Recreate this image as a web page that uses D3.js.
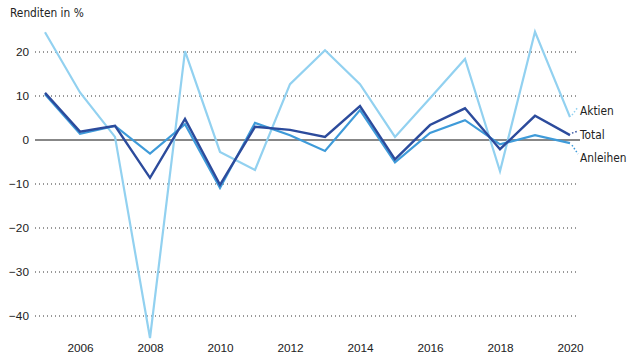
<!DOCTYPE html>
<html>
<head>
<meta charset="utf-8">
<script src="https://cdn.jsdelivr.net/npm/d3@7"></script>
<style>
  html, body { margin: 0; padding: 0; background: #fff; }
  svg { display: block; font-family: "Liberation Sans Narrow", "DejaVu Sans Condensed", "Arial Narrow", sans-serif; }
</style>
</head>
<body>
<svg id="chart" width="640" height="360"></svg>
<script>
const years = [2005, 2006, 2007, 2008, 2009, 2010, 2011, 2012, 2013, 2014, 2015, 2016, 2017, 2018, 2019, 2020];
const aktien   = [24.5, 10.8, 0.7, -45.0, 20.2, -2.7, -6.8, 12.7, 20.4, 12.7, 0.7, 9.5, 18.4, -7.1, 24.6, 5.2];
const anleihen = [10.4, 1.4, 3.2, -3.1, 3.6, -10.9, 3.9, 1.1, -2.5, 6.8, -5.1, 1.6, 4.5, -1.0, 1.1, -0.7];
const total    = [10.7, 1.9, 3.2, -8.6, 4.8, -10.2, 3.0, 2.3, 0.7, 7.7, -4.4, 3.4, 7.2, -2.1, 5.5, 1.1];
const yTicks = [20, 10, 0, -10, -20, -30, -40];
const xTicks = [2006, 2008, 2010, 2012, 2014, 2016, 2018, 2020];
const seriesNames = ["Aktien", "Anleihen", "Total"];
const colors = { Aktien: "#92d1f0", Anleihen: "#3f9bd9", Total: "#2c4b9c" };

const FS = 11.8;
const svg = d3.select("#chart");
const x = d3.scaleLinear().domain([2005, 2020]).range([45, 570]);
const y = d3.scaleLinear().domain([-40, 20]).range([316, 52]);

// title
svg.append("text").attr("x", 10).attr("y", 17).attr("font-size", FS).attr("fill", "#222").text("Renditen in %");

// grid lines (dotted)
const gridTicks = yTicks.filter(d => d !== 0);
svg.append("g").selectAll("line").data(gridTicks).join("line")
  .attr("x1", 35).attr("x2", 577)
  .attr("y1", d => y(d)).attr("y2", d => y(d))
  .attr("stroke", "#333").attr("stroke-width", 1)
  .attr("stroke-dasharray", "1,3");

// y axis labels
const yAxis = d3.axisLeft(y).tickValues(yTicks).tickSize(0).tickPadding(0)
  .tickFormat(d => d < 0 ? "\u2212" + Math.abs(d) : String(d));
const gy = svg.append("g").attr("transform", "translate(29,0)").call(yAxis);
gy.select(".domain").remove();
gy.selectAll("text").attr("font-size", FS).attr("fill", "#222").attr("font-family", null);

// x axis labels
const xAxis = d3.axisBottom(x).tickValues(xTicks).tickSize(0).tickPadding(0).tickFormat(d3.format("d"));
const gx = svg.append("g").attr("transform", "translate(0,344)").call(xAxis);
gx.select(".domain").remove();
gx.selectAll("text").attr("font-size", FS).attr("fill", "#222").attr("font-family", null);

// zero line
svg.append("line").attr("x1", 35).attr("x2", 580).attr("y1", y(0)).attr("y2", y(0))
  .attr("stroke", "#111").attr("stroke-width", 1.2);

const data = {
  Aktien: aktien,
  Anleihen: anleihen,
  Total: total
};
const line = d3.line().x((d, i) => x(years[i])).y(d => y(d));
seriesNames.forEach(name => {
  svg.append("path").datum(data[name])
    .attr("d", line)
    .attr("fill", "none")
    .attr("stroke", colors[name])
    .attr("stroke-width", name === "Total" ? 2.4 : 2.2)
    .attr("stroke-linejoin", "miter");
});

// labels with dotted leaders
const last = years.length - 1;
const labelInfo = [
  { name: "Aktien", ly: 111 },
  { name: "Total", ly: 135 },
  { name: "Anleihen", ly: 158 }
];
labelInfo.forEach(l => {
  const v = data[l.name][last];
  svg.append("line")
    .attr("x1", x(years[last]) + 2).attr("y1", y(v) + (l.ly - 4 > y(v) ? 2 : -2))
    .attr("x2", 578).attr("y2", l.ly - 4)
    .attr("stroke", colors[l.name]).attr("stroke-width", 1.5)
    .attr("stroke-dasharray", "1.5,2");
  svg.append("text").attr("x", 580).attr("y", l.ly + 4)
    .attr("font-size", FS).attr("fill", "#222").text(l.name);
});
</script>
</body>
</html>
